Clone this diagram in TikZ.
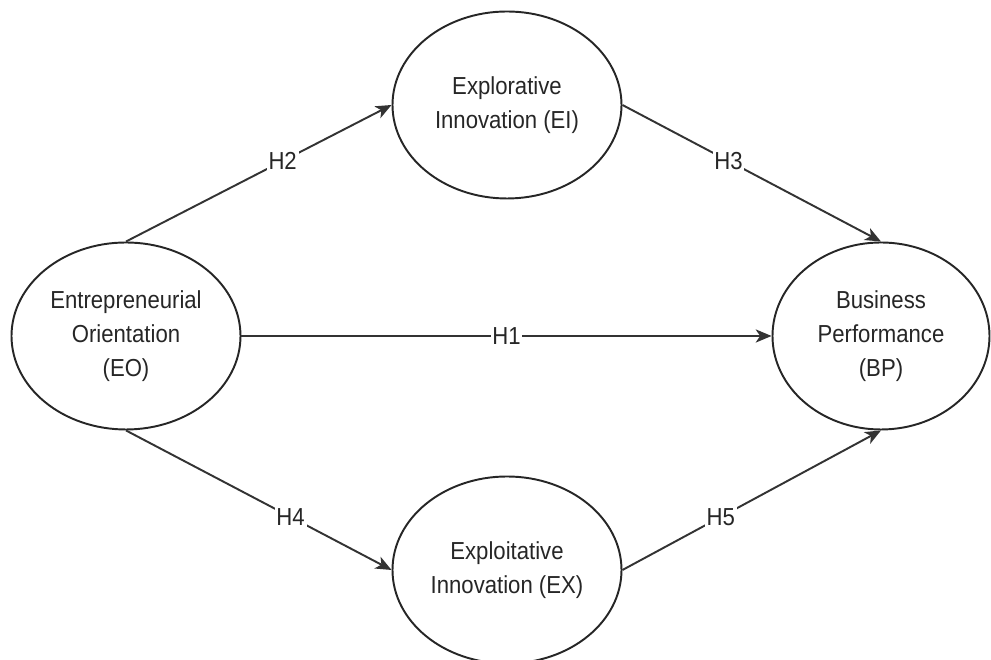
\documentclass[tikz,border=0pt]{standalone}
\usepackage{fontspec}
\setmainfont{Liberation Sans}[FakeStretch=0.9]
\usetikzlibrary{shapes.geometric,arrows.meta}

\begin{document}
\begin{tikzpicture}[
    font=\fontsize{14}{19.4}\selectfont,
    text=black!85,
    konstruk/.style={ellipse, draw=black!85, line width=1.1pt, inner sep=0pt,
      minimum width=4.58cm, minimum height=3.74cm, align=center},
    hipotesis/.style={draw=black!80, line width=1.1pt,
      -{Stealth[length=9pt,width=7.5pt,inset=2.5pt]}},
    lbl/.style={fill=white, inner sep=1pt}
  ]
    \useasboundingbox (0,0) rectangle (19.82,13.2);

    % Variabel laten
    \node[konstruk] (eo) at (2.52,6.48) {Entrepreneurial\\Orientation\\(EO)};
    \node[konstruk] (ei) at (10.14,11.1) {Explorative\\Innovation (EI)};
    \node[konstruk] (ex) at (10.14,1.8) {Exploitative\\Innovation (EX)};
    \node[konstruk, minimum width=4.34cm] (bp) at (17.62,6.48) {Business\\Performance\\(BP)};

    % Hipotesis
    \draw[hipotesis] (eo.east) -- node[lbl] {H1} (bp.west);
    \draw[hipotesis] (eo.north) -- node[lbl, pos=0.59] {H2} (ei.west);
    \draw[hipotesis] (ei.east) -- node[lbl, pos=0.41] {H3} (bp.north);
    \draw[hipotesis] (eo.south) -- node[lbl, pos=0.62] {H4} (ex.west);
    \draw[hipotesis] (ex.east) -- node[lbl, pos=0.38] {H5} (bp.south);
  \end{tikzpicture}
\end{document}
